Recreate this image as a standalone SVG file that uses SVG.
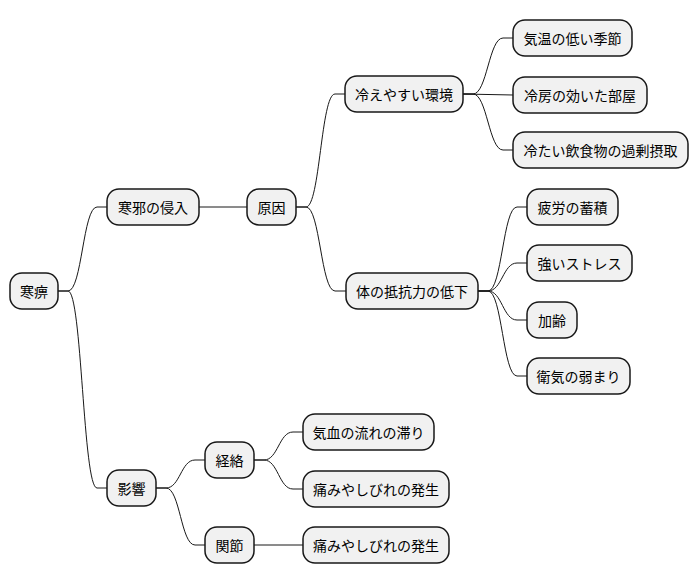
<svg xmlns="http://www.w3.org/2000/svg" width="698" height="583" viewBox="0 0 698 583">
<style>
.n rect{fill:#F1F1F1;stroke:#181818;stroke-width:1.5}
.n text{font-family:"Noto Sans CJK JP","Noto Sans",sans-serif;font-size:14px;fill:#000;text-anchor:middle;dominant-baseline:central}
#edges path{fill:none;stroke:#181818;stroke-width:1}
</style>
<rect width="698" height="583" fill="#FFFFFF"/>
<g id="edges">
<path d="M58,291 L68,291 C82,291 83,207 97,207 L107,207"/>
<path d="M58,291 L68,291 C82,291 83,488 97,488 L107,488"/>
<path d="M199,207 L247,207"/>
<path d="M296,207 L306,207 C320,207 321,94 335,94 L345,94"/>
<path d="M296,207 L306,207 C320,207 321,291 335,291 L346,291"/>
<path d="M463,94 L473,94 C487,94 489,38 503,38 L513,38"/>
<path d="M463,94 L513,95"/>
<path d="M463,94 L473,94 C487,94 489,150 503,150 L513,150"/>
<path d="M478,291 L488,291 C502,291 503,207 517,207 L527,207"/>
<path d="M478,291 L488,291 C502,291 503,263 517,263 L527,263"/>
<path d="M478,291 L488,291 C502,291 503,320 517,320 L527,320"/>
<path d="M478,291 L488,291 C502,291 503,376 517,376 L527,376"/>
<path d="M156,488 L166,488 C180,488 181,460 195,460 L205,460"/>
<path d="M156,488 L166,488 C180,488 181,545 195,545 L205,545"/>
<path d="M254,460 L264,460 C278,460 279,432 293,432 L303,432"/>
<path d="M254,460 L264,460 C278,460 279,489 293,489 L303,489"/>
<path d="M254,545 L303,545"/>
</g>
<g id="n0" class="n"><rect x="10" y="273" width="48" height="36" rx="12"/><text x="34" y="291">寒痹</text></g>
<g id="n1" class="n"><rect x="107" y="189" width="92" height="36" rx="12"/><text x="153" y="207">寒邪の侵入</text></g>
<g id="n2" class="n"><rect x="247" y="189" width="49" height="36" rx="12"/><text x="271.5" y="207">原因</text></g>
<g id="n3" class="n"><rect x="345" y="76" width="118" height="36" rx="12"/><text x="404" y="94">冷えやすい環境</text></g>
<g id="n4" class="n"><rect x="513" y="20" width="119" height="36" rx="12"/><text x="572.5" y="38">気温の低い季節</text></g>
<g id="n5" class="n"><rect x="513" y="77" width="134" height="36" rx="12"/><text x="580" y="95">冷房の効いた部屋</text></g>
<g id="n6" class="n"><rect x="513" y="132" width="175" height="36" rx="12"/><text x="600.5" y="150">冷たい飲食物の過剰摂取</text></g>
<g id="n7" class="n"><rect x="346" y="273" width="132" height="36" rx="12"/><text x="412" y="291">体の抵抗力の低下</text></g>
<g id="n8" class="n"><rect x="527" y="189" width="91" height="36" rx="12"/><text x="572.5" y="207">疲労の蓄積</text></g>
<g id="n9" class="n"><rect x="527" y="245" width="105" height="36" rx="12"/><text x="579.5" y="263">強いストレス</text></g>
<g id="n10" class="n"><rect x="527" y="302" width="50" height="36" rx="12"/><text x="552" y="320">加齢</text></g>
<g id="n11" class="n"><rect x="527" y="358" width="103" height="36" rx="12"/><text x="578.5" y="376">衛気の弱まり</text></g>
<g id="n12" class="n"><rect x="107" y="470" width="49" height="36" rx="12"/><text x="131.5" y="488">影響</text></g>
<g id="n13" class="n"><rect x="205" y="442" width="49" height="36" rx="12"/><text x="229.5" y="460">経絡</text></g>
<g id="n14" class="n"><rect x="303" y="414" width="131" height="36" rx="12"/><text x="368.5" y="432">気血の流れの滞り</text></g>
<g id="n15" class="n"><rect x="303" y="471" width="146" height="36" rx="12"/><text x="376" y="489">痛みやしびれの発生</text></g>
<g id="n16" class="n"><rect x="205" y="527" width="49" height="36" rx="12"/><text x="229.5" y="545">関節</text></g>
<g id="n17" class="n"><rect x="303" y="527" width="146" height="36" rx="12"/><text x="376" y="545">痛みやしびれの発生</text></g>
</svg>
